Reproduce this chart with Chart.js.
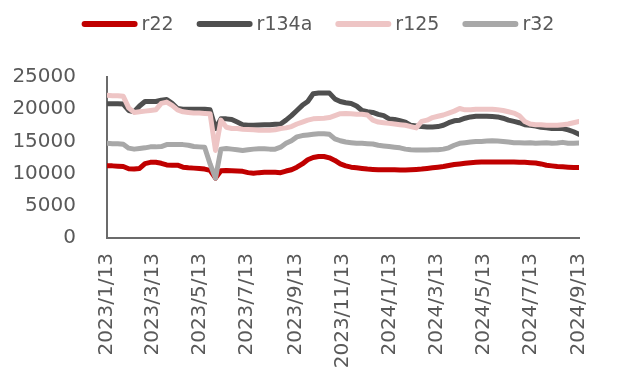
<!DOCTYPE html>
<html>
<head>
<meta charset="utf-8">
<script src="https://cdn.jsdelivr.net/npm/chart.js@4/dist/chart.umd.min.js"></script>
<style>
  html, body { margin: 0; padding: 0; background: #ffffff; }
  #wrap { width: 618px; height: 379px; position: relative; }
</style>
</head>
<body>
<div id="wrap"><canvas id="priceChart"></canvas></div>
<script>
// Weekly prices, first observation on 2023/1/13, one value per week
const startDate = '2023/1/13';
const seriesNames = ['r22', 'r134a', 'r125', 'r32'];
const tickLabels = ['2023/1/13', '2023/3/13', '2023/5/13', '2023/7/13', '2023/9/13', '2023/11/13',
                    '2024/1/13', '2024/3/13', '2024/5/13', '2024/7/13', '2024/9/13'];
const yTicks = [0, 5000, 10000, 15000, 20000, 25000];

const r22 = [
  11200, 11200, 11150, 11100, 10750, 10700, 10800, 11550, 11750, 11750,
  11600, 11350, 11300, 11300, 11000, 10900, 10850, 10800, 10700, 10500,
  9300, 10450, 10500, 10450, 10400, 10350, 10150, 10050, 10150, 10200,
  10200, 10200, 10150, 10400, 10600, 11000, 11500, 12150, 12500, 12650,
  12650, 12450, 12050, 11500, 11200, 11000, 10900, 10800, 10700, 10650,
  10600, 10600, 10600, 10600, 10550, 10550, 10600, 10650, 10700, 10800,
  10900, 11000, 11100, 11250, 11400, 11500, 11600, 11700, 11750, 11800,
  11800, 11800, 11800, 11800, 11800, 11800, 11750, 11750, 11700, 11650,
  11500, 11300, 11200, 11100, 11050, 11000, 10950, 10950
];
const r134a = [
  20850, 20850, 20850, 20800, 19800, 19600, 20500, 21200, 21200, 21200,
  21400, 21500, 20900, 20100, 20000, 20000, 20000, 20000, 20000, 19900,
  17000, 18500, 18500, 18400, 18000, 17600, 17500, 17500, 17550, 17600,
  17600, 17650, 17700, 18300, 19000, 19800, 20600, 21200, 22400, 22500,
  22500, 22500, 21600, 21200, 21000, 20900, 20500, 19800, 19600, 19500,
  19200, 19000, 18500, 18400, 18200, 18000, 17500, 17400, 17300, 17250,
  17250, 17300, 17500, 17900, 18200, 18300, 18600, 18800, 18900, 18900,
  18900, 18850, 18800, 18600, 18300, 18100, 17900, 17600, 17500, 17400,
  17200, 17100, 17000, 17000, 17000, 16800, 16500, 16100
];
const r125 = [
  22150, 22100, 22100, 22000, 20200, 19500, 19600, 19700, 19800, 19900,
  20900, 21100, 20600, 19900, 19600, 19500, 19400, 19400, 19350, 19300,
  13600, 18300, 17200, 17000, 17000, 16900, 16850, 16800, 16750, 16750,
  16750, 16800, 17000, 17100, 17300, 17700, 18000, 18300, 18500, 18550,
  18600, 18700, 19000, 19300, 19350, 19300, 19200, 19200, 19100, 18300,
  18000, 17900, 17800, 17700, 17600, 17500, 17300, 17100, 18100, 18300,
  18700, 18900, 19100, 19400, 19700, 20100, 19900, 19900, 20000, 20000,
  20000, 20000, 19900, 19800, 19600, 19400, 19000, 18100, 17700, 17600,
  17600, 17500, 17500, 17500, 17600, 17700, 17900, 18100
];
const r32 = [
  14700, 14650, 14650, 14550, 13950, 13800, 13900, 14000, 14150, 14150,
  14200, 14500, 14500, 14500, 14500, 14400, 14200, 14150, 14100, 11500,
  9300, 13800, 13900, 13800, 13700, 13600, 13700, 13800, 13850, 13850,
  13800, 13800, 14100, 14700, 15100, 15700, 15900, 16000, 16100, 16200,
  16200, 16100, 15400, 15100, 14900, 14800, 14700, 14700, 14650, 14600,
  14400, 14300, 14200, 14100, 14000, 13800, 13700, 13650, 13650, 13650,
  13700, 13700, 13800, 14000, 14400, 14700, 14800, 14900, 15000, 15000,
  15050, 15100, 15050, 15000, 14900, 14800, 14800, 14750, 14800, 14700,
  14750, 14800, 14700, 14750, 14850, 14700, 14700, 14750
];

const colours = ['#C00000', '#4F4F4F', '#EEC5C5', '#A8A8A8'];
const textColour = '#595959';
const fontFamily = '"DejaVu Sans", sans-serif';

// days since the first observation
function dayNum(str) {
  const [y, m, d] = str.split('/').map(Number);
  const [y0, m0, d0] = startDate.split('/').map(Number);
  return Math.round((Date.UTC(y, m - 1, d) - Date.UTC(y0, m0 - 1, d0)) / 86400000);
}

function weekly(values) {
  return values.map((v, i) => ({ x: i * 7, y: v }));
}

const tickDays = tickLabels.map(dayNum);

const datasets = [r22, r134a, r125, r32].map((values, i) => ({
  label: seriesNames[i],
  data: weekly(values),
  borderColor: colours[i],
  backgroundColor: colours[i],
  borderWidth: 5,
  pointRadius: 0,
  tension: 0,
  borderJoinStyle: 'round',
  borderCapStyle: 'round',
  // later series sit on top
  order: seriesNames.length - i
}));

// Legend: thick rounded lines followed by the series name, one centred row
const lineLegend = {
  id: 'lineLegend',
  afterDraw(chart) {
    const ctx = chart.ctx;
    const lineLen = 56, gap = 4, spacing = 23, y = 24;
    ctx.save();
    ctx.font = '19px ' + fontFamily;
    const items = seriesNames.map((name, i) => ({
      name, colour: colours[i], textW: ctx.measureText(name).width
    }));
    const total = items.reduce((s, it) => s + lineLen + gap + it.textW, 0) + spacing * (items.length - 1);
    let x = (chart.width - total) / 2 + 9;
    items.forEach(it => {
      ctx.strokeStyle = it.colour;
      ctx.lineWidth = 6;
      ctx.lineCap = 'round';
      ctx.beginPath();
      ctx.moveTo(x + 3, y);
      ctx.lineTo(x + lineLen - 3, y);
      ctx.stroke();
      ctx.fillStyle = textColour;
      ctx.textBaseline = 'middle';
      ctx.textAlign = 'left';
      ctx.fillText(it.name, x + lineLen + gap, y + 1);
      x += lineLen + gap + it.textW + spacing;
    });
    ctx.restore();
  }
};

new Chart(document.getElementById('priceChart'), {
  type: 'line',
  data: { datasets },
  options: {
    responsive: true,
    maintainAspectRatio: false,
    animation: false,
    layout: { padding: { top: 77, right: 12, left: 0, bottom: 0 } },
    plugins: {
      legend: { display: false },
      tooltip: { enabled: false }
    },
    scales: {
      x: {
        type: 'linear',
        min: tickDays[0],
        max: tickDays[tickDays.length - 1],
        afterBuildTicks(scale) {
          scale.ticks = tickDays.map(v => ({ value: v }));
        },
        afterFit(scale) { scale.height = 141; },
        ticks: {
          autoSkip: false,
          minRotation: 90,
          maxRotation: 90,
          padding: 15,
          color: textColour,
          font: { family: fontFamily, size: 20 },
          callback: (v) => tickLabels[tickDays.indexOf(v)]
        },
        grid: { display: false, drawTicks: false },
        border: { display: true, color: '#6B6B6B', width: 2 }
      },
      y: {
        min: yTicks[0],
        max: yTicks[yTicks.length - 1],
        afterBuildTicks(scale) {
          scale.ticks = yTicks.map(v => ({ value: v }));
        },
        afterFit(scale) { scale.width = 107; },
        ticks: {
          padding: 31,
          color: textColour,
          font: { family: fontFamily, size: 20 },
          callback: (v) => String(v)
        },
        grid: { display: false, drawTicks: false },
        border: { display: true, color: '#6B6B6B', width: 2 }
      }
    }
  },
  plugins: [lineLegend]
});
</script>
</body>
</html>
